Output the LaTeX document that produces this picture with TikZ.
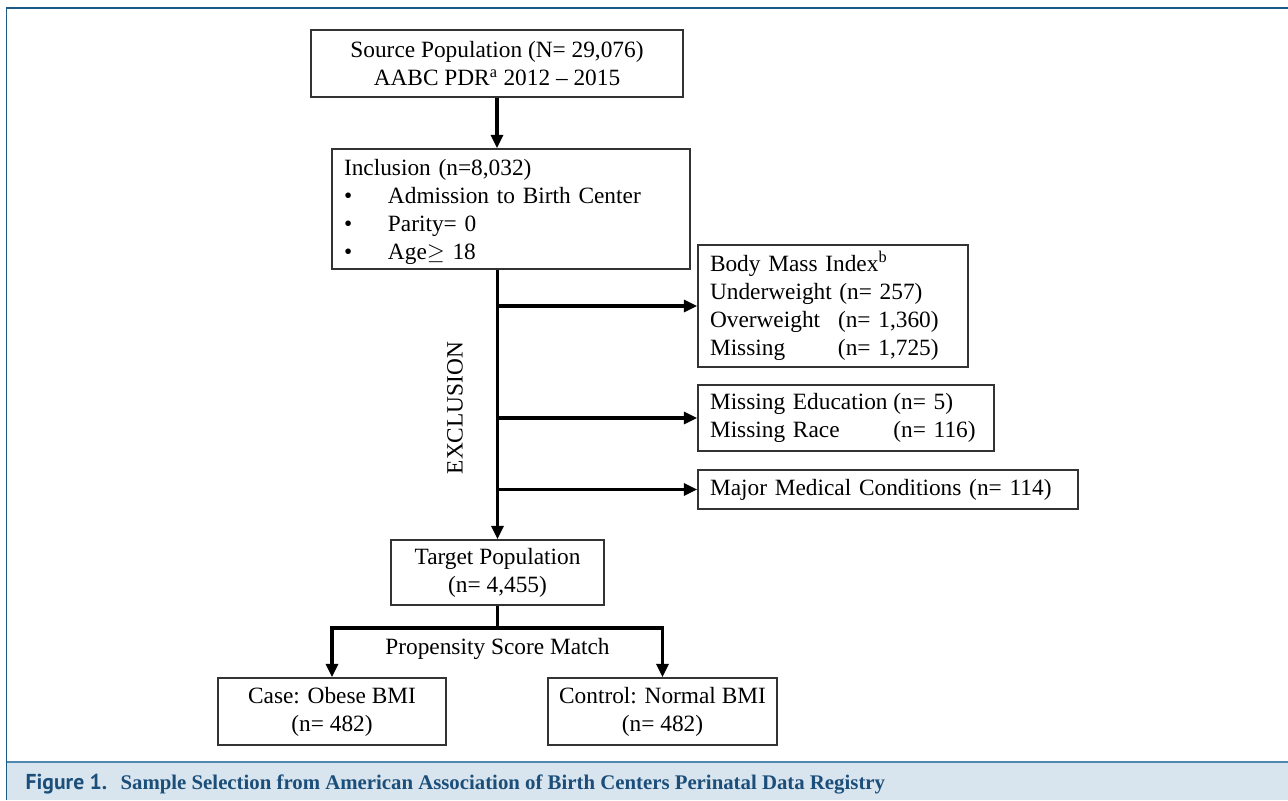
\documentclass[tikz,border=0pt]{standalone}
\usepackage{fontspec}
\setmainfont{Liberation Serif}
\newfontfamily\capsans{PT Sans}
\usetikzlibrary{arrows.meta}
\definecolor{framecol}{RGB}{30,90,135}
\definecolor{bandline}{RGB}{80,135,175}
\definecolor{bandfill}{RGB}{216,229,238}
\definecolor{capcol}{RGB}{28,78,122}
\tikzset{
  box/.style={draw=black!80,line width=1.1pt,rectangle,inner sep=0pt,align=center},
  lbox/.style={draw=black!80,line width=1.1pt,rectangle,inner xsep=9pt,inner ysep=0pt,align=left},
  arr/.style={line width=2.3pt,-{Triangle[length=10pt,width=9pt]}},
  link/.style={line width=2.3pt}
}
\begin{document}
\begin{tikzpicture}[x=0.75pt,y=-0.75pt,line cap=butt,line join=miter,font=\fontsize{17.5}{21}\selectfont]
\useasboundingbox (0,0) rectangle (1288,800);
\fill[bandfill] (7,762) rectangle (1288,800);
\draw[bandline,line width=1.4pt] (7,762) -- (1288,762);
\draw[framecol,line width=1.4pt] (6.5,800) -- (6.5,8) -- (1288,8);
\node[anchor=west,text=capcol,font=\fontsize{15.6}{18}\selectfont] (caption) at (21,784)
  {{\capsans\bfseries\fontsize{16.2}{18}\selectfont Figure 1.}\hspace{10pt}\bfseries Sample Selection from American Association of Birth Centers Perinatal Data Registry};

\node[box,minimum width=279pt,minimum height=50.25pt] (src) at (497,63.5)
  {Source Population (N= 29,076)\\AABC PDR\textsuperscript{a} 2012 -- 2015};
\node[lbox,text width=250.5pt,minimum height=90pt] (incl) at (511,209)
  {\rule{0pt}{17pt}Inclusion (n=8,032)\\
   \makebox[33pt][l]{\textbullet}Admission to Birth Center\\
   \makebox[33pt][l]{\textbullet}Parity= 0\\
   \makebox[33pt][l]{\textbullet}Age\(\geq\) 18};
\node[lbox,text width=184.5pt,minimum height=91.5pt] (bmi) at (833,306)
  {Body Mass Index\textsuperscript{b}\\
   \makebox[97pt][l]{Underweight}(n= 257)\\
   \makebox[96pt][l]{Overweight}(n= 1,360)\\
   \makebox[96pt][l]{Missing}(n= 1,725)};
\node[lbox,text width=204pt,minimum height=49.5pt] (edu) at (846,418)
  {\makebox[137.5pt][l]{Missing Education}(n= 5)\\
   \makebox[137.5pt][l]{Missing Race}(n= 116)};
\node[lbox,text width=267pt,minimum height=29.25pt] (major) at (888,489.5)
  {Major Medical Conditions (n= 114)};
\node[rotate=90] (excl) at (455,408) {EXCLUSION};
\node[box,minimum width=160pt,minimum height=48.75pt] (tgt) at (497.5,572.5)
  {Target Population\\(n= 4,455)};
\node (psm) at (497.5,649) {Propensity Score Match};
\node[box,minimum width=171pt,minimum height=50.25pt] (case) at (332,711.5)
  {Case: Obese BMI\\(n= 482)};
\node[box,minimum width=171.75pt,minimum height=50.25pt] (ctrl) at (662.5,711.5)
  {Control: Normal BMI\\(n= 482)};

\draw[arr] (src.south) -- (src.south |- incl.north);
\draw[arr] (tgt.north |- incl.south) -- (tgt.north);
\draw[arr] (bmi.west -| tgt.north) -- (bmi.west);
\draw[arr] (edu.west -| tgt.north) -- (edu.west);
\draw[arr] (major.west -| tgt.north) -- (major.west);
\coordinate (split) at (tgt.south |- 0,628);
\draw[link] (tgt.south) -- (split);
\draw[arr] (split) -| (case.north);
\draw[arr] (split) -| (ctrl.north);
\end{tikzpicture}
\end{document}
